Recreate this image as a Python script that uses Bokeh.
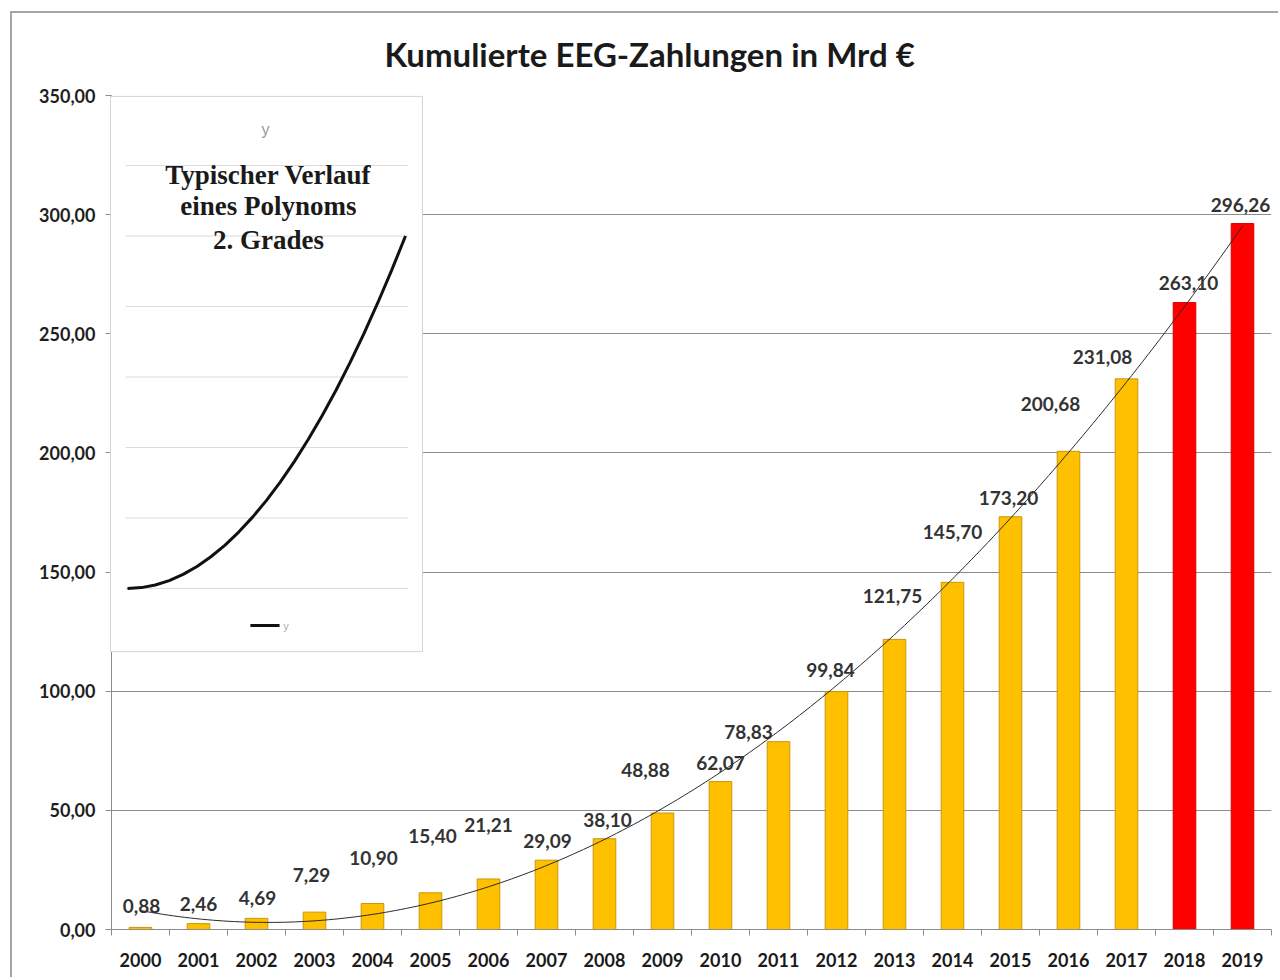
import numpy as np
from bokeh.plotting import figure
from bokeh.models import Range1d, FixedTicker, ColumnDataSource
from bokeh.core.properties import value
from bokeh.embed import file_html
from bokeh.resources import INLINE

# ---------------- data ----------------
title_text = "Kumulierte EEG-Zahlungen in Mrd €"
years = [2000, 2001, 2002, 2003, 2004, 2005, 2006, 2007, 2008, 2009,
         2010, 2011, 2012, 2013, 2014, 2015, 2016, 2017, 2018, 2019]
payments = [0.88, 2.46, 4.69, 7.29, 10.90, 15.40, 21.21, 29.09, 38.10, 48.88,
            62.07, 78.83, 99.84, 121.75, 145.70, 173.20, 200.68, 231.08, 263.10, 296.26]
forecast_from = 2018
y_ticks = [0, 50, 100, 150, 200, 250, 300, 350]
y_tick_labels = ["0,00", "50,00", "100,00", "150,00", "200,00", "250,00", "300,00", "350,00"]
x_tick_labels = [str(y) for y in years]

# inset: typical curve of a 2nd-degree polynomial
inset_x = [0, 0.5, 1, 1.5, 2, 2.5, 3, 3.5, 4, 4.5, 5, 5.5, 6, 6.5, 7, 7.5, 8, 8.5, 9, 9.5, 10]
inset_y = [0, 0.25, 1, 2.25, 4, 6.25, 9, 12.25, 16, 20.25, 25, 30.25, 36, 42.25, 49, 56.25,
           64, 72.25, 81, 90.25, 100]
inset_grid = [0, 20, 40, 60, 80, 100, 120]
inset_lines = ["Typischer Verlauf", "eines Polynoms", "2. Grades"]

# label placement (pixels) as in the original
label_dx = [1, 0, 1, -3, 1, 2, 0, 1, 3, -17, 0, -30, -6, -2, 0, -2, -18, -24, 4, -2]
label_dy = [21, 20, 20, 37, 46, 57, 54, 19, 19, 43, 19, 10, 22, 43, 50, 19, 47, 22, 20, 19]

# ---------------- styling ----------------
GOLD = "#FFC000"
RED = "#FF0000"
colors = [RED if y >= forecast_from else GOLD for y in years]
edges = ["#C8960A" if y < forecast_from else "#D80000" for y in years]
labels = [f"{v:.2f}".replace(".", ",") for v in payments]

src = ColumnDataSource(dict(x=years, top=payments, color=colors, edge=edges, label=labels,
                            dx=label_dx, dy=[-d for d in label_dy]))

p = figure(width=1268, height=966,
           x_range=Range1d(years[0] - 0.5, years[-1] + 0.5),
           y_range=Range1d(y_ticks[0], y_ticks[-1]),
           output_backend="svg", toolbar_location=None,
           min_border_left=99, min_border_right=9, min_border_top=82, min_border_bottom=50,
           title=title_text)
p.styles = {"margin-left": "10px", "margin-top": "11px",
            "border-left": "2px solid #a6a6a6", "border-top": "2px solid #a6a6a6"}
p.outline_line_color = None
p.background_fill_color = "white"
p.border_fill_color = "white"

p.title.align = "left"
p.title.vertical_align = "top"
p.title.offset = 273
p.title.text_font = "Lato"
p.title.text_font_size = "33px"
p.title.text_font_style = "bold"
p.title.text_color = "#1a1a1a"
p.title.standoff = 40

# grid
p.xgrid.visible = False
p.ygrid.ticker = FixedTicker(ticks=y_ticks)
p.ygrid.grid_line_color = "#8c8c8c"
p.ygrid.grid_line_width = 1

# y axis
p.yaxis.ticker = FixedTicker(ticks=y_ticks)
p.yaxis.major_label_overrides = {t: l for t, l in zip(y_ticks, y_tick_labels)}
p.yaxis.axis_line_color = "#8c8c8c"
p.yaxis.major_tick_line_color = "#8c8c8c"
p.yaxis.major_tick_out = 6
p.yaxis.major_tick_in = 0
p.yaxis.minor_tick_line_color = None
p.yaxis.major_label_standoff = 10
p.yaxis.major_label_text_font = "Lato"
p.yaxis.major_label_text_font_style = "bold"
p.yaxis.major_label_text_font_size = "18px"
p.yaxis.major_label_text_color = "#1e1e1e"

# x axis
bounds = [y - 0.5 for y in years] + [years[-1] + 0.5]
p.xaxis.ticker = FixedTicker(ticks=years, minor_ticks=bounds)
p.xaxis.major_label_overrides = {y: l for y, l in zip(years, x_tick_labels)}
p.xaxis.axis_line_color = "#8c8c8c"
p.xaxis.major_tick_line_color = None
p.xaxis.major_tick_out = 0
p.xaxis.major_tick_in = 0
p.xaxis.minor_tick_line_color = "#8c8c8c"
p.xaxis.minor_tick_out = 6
p.xaxis.minor_tick_in = 0
p.xaxis.major_label_standoff = 17
p.xaxis.major_label_text_font = "Lato"
p.xaxis.major_label_text_font_style = "bold"
p.xaxis.major_label_text_font_size = "18px"
p.xaxis.major_label_text_color = "#1a1a1a"

# bars
p.vbar(x="x", top="top", bottom=0, width=0.39, source=src,
       fill_color="color", line_color="edge", line_width=1)

# polynomial trendline (2nd degree least-squares fit of the data)
coef = np.polyfit(np.array(years, dtype=float), np.array(payments), 2)
tx = np.linspace(years[0], years[-1], 200)
p.line(tx, np.polyval(coef, tx), line_color="#2b2b2b", line_width=1)

# data labels
p.text(x="x", y="top", text="label", source=src, x_offset="dx", y_offset="dy",
       text_align="center", text_baseline="middle",
       text_font=value("Lato"), text_font_style="bold", text_font_size="19px",
       text_color="#333333")

# ---------------- inset ----------------
p.extra_x_ranges = {"inset": Range1d(-0.5755, 41.151)}
p.extra_y_ranges = {"inset": Range1d(-96.74, 139.86)}
kw = dict(x_range_name="inset", y_range_name="inset", level="overlay")
p.quad(left=-0.61, right=10.61, bottom=-17.9, top=139.6,
       fill_color="white", line_color="#d4d4d4", line_width=1, **kw)
p.segment(x0=[-0.07] * len(inset_grid), x1=[10.1] * len(inset_grid),
          y0=inset_grid, y1=inset_grid, line_color="#dcdcdc", line_width=1, **kw)
p.line(inset_x, inset_y, line_color="#111111", line_width=3, **kw)
p.text(x=[4.96], y=[130.2], text=["y"], text_align="center", text_baseline="middle",
       text_font=value("Liberation Sans"), text_font_size="16px", text_color="#9a9a9a", **kw)
p.text(x=[5.07] * 3, y=[117.4, 108.4, 99.0], text=inset_lines,
       text_align="center", text_baseline="middle",
       text_font=value("Liberation Serif"), text_font_style="bold", text_font_size="27px",
       text_color="#1a1a1a", **kw)
p.segment(x0=[4.42], x1=[5.47], y0=[-10.5], y1=[-10.5], line_color="#111111", line_width=3, **kw)
p.text(x=[5.6], y=[-10.5], text=["y"], text_align="left", text_baseline="middle",
       text_font=value("Liberation Sans"), text_font_size="11px", text_color="#b0b0b0", **kw)

open("out.html", "w").write(file_html(p, INLINE))
